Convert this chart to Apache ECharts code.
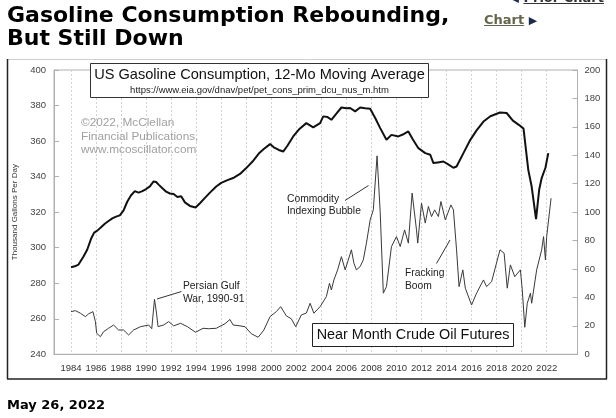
<!DOCTYPE html>
<html>
<head>
<meta charset="utf-8">
<script src="https://cdn.jsdelivr.net/npm/echarts/dist/echarts.min.js"></script>
<style>
  html, body { margin: 0; padding: 0; background: #fff; }
  #wrap { position: relative; width: 616px; height: 418px; overflow: hidden; }
  #chart { position: absolute; left: 0; top: 0; width: 616px; height: 418px; }
  .page { position: absolute; font-family: "DejaVu Sans", Verdana, sans-serif; font-weight: bold; color: #000; white-space: nowrap; }
  #title { left: 7px; top: 3px; font-size: 22px; line-height: 23px; }
  #link { left: 484px; top: 12px; font-size: 13px; color: #66664d; }
  #link u { text-decoration: underline; }
  #prior { left: 512px; top: -10px; font-size: 13px; color: #333; }
  #date { left: 7px; top: 397px; font-size: 13px; }
</style>
</head>
<body>
<div id="wrap">
  <div id="chart"></div>
  <div class="page" id="title">Gasoline Consumption Rebounding,<br>But Still Down</div>
  <div class="page" id="prior"><span style="color:#1a2a4a;font-size:9px">&#9664;</span> <u>Prior Chart</u></div>
  <div class="page" id="link"><u>Chart</u> <span style="color:#1a2a4a;font-size:11px">&#9654;</span></div>
  <div class="page" id="date">May 26, 2022</div>
</div>
<script>
// ---- Data ----
const yearTicks = [1984,1986,1988,1990,1992,1994,1996,1998,2000,2002,2004,2006,2008,2010,2012,2014,2016,2018,2020,2022];

// US gasoline consumption, 12-month moving average (left axis)
const gasYears = [1984.0,1984.3,1984.6,1985.0,1985.3,1985.6,1985.85,1986.1,1986.4,1986.7,1987.0,1987.3,1987.6,1987.9,1988.2,1988.5,1988.8,1989.1,1989.4,1989.7,1990.0,1990.3,1990.6,1990.8,1991.0,1991.3,1991.6,1991.9,1992.2,1992.5,1992.8,1993.1,1993.5,1993.95,1994.3,1994.7,1995.1,1995.6,1996.0,1996.5,1996.95,1997.5,1998.0,1998.5,1999.0,1999.4,1999.9,2000.2,2000.6,2000.95,2001.3,2001.75,2002.2,2002.8,2003.35,2003.9,2004.15,2004.5,2004.8,2005.2,2005.6,2006.0,2006.3,2006.7,2007.1,2007.5,2007.9,2008.3,2008.7,2009.2,2009.6,2010.15,2010.6,2010.95,2011.3,2011.75,2012.3,2012.7,2012.95,2013.3,2013.75,2014.1,2014.55,2014.8,2015.35,2015.9,2016.4,2016.95,2017.5,2018.27,2018.8,2019.3,2019.8,2020.15,2020.53,2020.8,2021.15,2021.4,2021.6,2021.9,2022.13];
const gasValues = [289,289.5,290.5,295,299,305,308.5,309.6,311.5,313.5,315,316.5,317.5,318.2,321,326,329.5,331.8,331,331.8,333,334.5,337.3,337,335.5,333.5,331.5,330.5,330.2,328.5,329,325.5,323.5,322.6,325,328,331,334.4,336.5,338,339.2,341.5,344.8,348.5,353,355.5,358.3,356.5,355,354.1,357.5,362.6,366.5,370.1,367.7,370.1,373.9,373.5,372,375.5,378.9,378.5,378.6,376.7,378.9,378.5,378.2,373,367.3,360.7,363.5,362.6,364,365.4,361,356,353.2,352.3,347.6,348,348.5,347,345,345.7,353.2,360.7,366,371,374,376.1,375.8,371.5,369,367,343.8,334.4,316.1,332.6,339.2,345,353.2];

// Near month crude oil futures, $/bbl (right axis)
const oilYears = [1984.0,1984.35,1984.75,1985.15,1985.4,1985.75,1985.95,1986.05,1986.35,1986.6,1987.0,1987.4,1987.8,1988.2,1988.6,1989.0,1989.55,1990.2,1990.45,1990.67,1990.83,1990.95,1991.4,1991.8,1992.2,1992.75,1993.3,1993.95,1994.55,1995.0,1995.6,1996.3,1996.7,1996.95,1997.5,1997.9,1998.4,1998.95,1999.4,1999.9,2000.4,2000.75,2001.2,2001.6,2001.95,2002.4,2002.8,2003.1,2003.4,2003.9,2004.4,2004.65,2004.8,2005.0,2005.3,2005.6,2005.9,2006.4,2006.6,2006.8,2006.95,2007.1,2007.35,2007.6,2007.9,2008.15,2008.45,2008.7,2008.95,2009.2,2009.6,2010.0,2010.3,2010.65,2010.95,2011.25,2011.6,2011.7,2012.0,2012.3,2012.55,2012.8,2013.05,2013.35,2013.55,2013.9,2014.35,2014.55,2014.8,2015.0,2015.3,2015.5,2016.0,2016.4,2016.95,2017.2,2017.6,2018.27,2018.6,2018.85,2019.1,2019.45,2019.9,2020.05,2020.25,2020.45,2020.7,2020.8,2021.2,2021.6,2021.75,2021.9,2022.0,2022.35];
const oilValues = [30,30.7,28.9,26.5,28.4,30,23,14.8,12.4,15.9,18.3,20.6,17.1,17.1,13.6,17.1,19.4,20.6,18,38.7,29,19.5,20.6,23,20,21.8,19.4,15.5,18.3,18,18.3,21.5,24.5,20.6,20,19.4,14.5,12,17,26.5,30,33.5,27,25,19.4,27.7,29,35.9,28.9,33.5,40.6,50,45.3,52.3,59.4,68.7,59.4,73.5,64.1,59.4,58.2,61.7,66.4,78.2,94.6,101.6,139.6,100,43,47.6,75.8,82.8,75.8,87.5,78.2,113.4,87.5,78.2,106.3,92.3,104,96.9,101.6,96.9,107.5,94.6,105.1,101.6,73.5,47.6,59.4,46.5,34.7,43,52.3,47.6,51.1,73.5,71.1,46.5,62.9,54.6,59.4,45.3,19,35.9,43,35.9,59.4,73.5,82.8,66.4,82.8,109.8];

const leftMin = 240, leftMax = 400, leftStep = 20;
const rightMin = 0, rightMax = 200, rightStep = 20;

const gasData = gasYears.map((y, i) => [y, gasValues[i]]);
const oilData = oilYears.map((y, i) => [y, oilValues[i]]);

const chart = echarts.init(document.getElementById('chart'), null, { renderer: 'canvas' });
const F = '"Liberation Sans", Arial, sans-serif';

const option = {
  animation: false,
  backgroundColor: '#fff',
  grid: { left: 54, right: 38.5, top: 70, bottom: 63.7, show: true, borderColor: '#b0b0b0', borderWidth: 1, backgroundColor: 'transparent' },
  xAxis: {
    type: 'value', min: 1982.641, max: 2024.462,
    axisLine: { show: true, lineStyle: { color: '#b0b0b0' } },
    axisTick: { show: false, customValues: yearTicks },
    axisLabel: { customValues: yearTicks, color: '#333', fontFamily: F, fontSize: 9.5, margin: 9, formatter: v => String(v) },
    splitLine: { show: true, lineStyle: { color: '#d2d2d2', type: [2, 2], width: 1 } }
  },
  yAxis: [
    {
      type: 'value', min: leftMin, max: leftMax, interval: leftStep, position: 'left',
      name: 'Thousand Gallons Per Day', nameLocation: 'middle', nameGap: 27, nameRotate: 90,
      nameTextStyle: { fontFamily: F, fontSize: 8, color: '#333' },
      axisLine: { show: true, lineStyle: { color: '#b0b0b0' } },
      axisTick: { show: true, inside: true, length: 5, lineStyle: { color: '#b0b0b0' } },
      axisLabel: { color: '#444', fontFamily: F, fontSize: 9.5, margin: 8 },
      splitLine: { show: false }
    },
    {
      type: 'value', min: rightMin, max: rightMax, interval: rightStep, position: 'right',
      axisLine: { show: true, lineStyle: { color: '#b0b0b0' } },
      axisTick: { show: true, inside: true, length: 5, lineStyle: { color: '#b0b0b0' } },
      axisLabel: { color: '#444', fontFamily: F, fontSize: 9.5, margin: 7 },
      splitLine: { show: false }
    }
  ],
  series: [
    {
      name: 'Gasoline', type: 'line', yAxisIndex: 0, data: gasData,
      showSymbol: false, symbol: 'none', lineStyle: { color: '#111', width: 2 }, z: 3
    },
    {
      name: 'Crude', type: 'line', yAxisIndex: 1, data: oilData,
      showSymbol: false, symbol: 'none', lineStyle: { color: '#3a3a3a', width: 1 }, z: 2
    }
  ],
  graphic: [
    // outer frame
    { type: 'line', shape: { x1: 7, y1: 59.5, x2: 606, y2: 59.5 }, style: { stroke: '#cfcfcf', lineWidth: 1 } },
    { type: 'line', shape: { x1: 7.5, y1: 59, x2: 7.5, y2: 379 }, style: { stroke: '#222', lineWidth: 1.5 } },
    { type: 'line', shape: { x1: 606.5, y1: 59, x2: 606.5, y2: 379 }, style: { stroke: '#222', lineWidth: 1.5 } },
    { type: 'line', shape: { x1: 7, y1: 379, x2: 607, y2: 379 }, style: { stroke: '#222', lineWidth: 1.5 } },
    // title box
    { type: 'rect', shape: { x: 90.5, y: 63.5, width: 338, height: 34 }, style: { fill: '#fff', stroke: '#333', lineWidth: 1 }, z: 10 },
    { type: 'text', x: 259.5, y: 75, style: { text: 'US Gasoline Consumption, 12-Mo Moving Average', fontFamily: F, fontSize: 14.6, fill: '#111', align: 'center', verticalAlign: 'middle' }, z: 11 },
    { type: 'text', x: 259.5, y: 90.5, style: { text: 'https://www.eia.gov/dnav/pet/pet_cons_prim_dcu_nus_m.htm', fontFamily: F, fontSize: 9.5, fill: '#222', align: 'center', verticalAlign: 'middle' }, z: 11 },
    // copyright
    { type: 'text', x: 81, y: 116, style: { text: '\u00A92022, McClellan\nFinancial Publications,\nwww.mcoscillator.com', fontFamily: F, fontSize: 11.8, lineHeight: 13.5, fill: '#a0a0a0' }, z: 11 },
    // annotations
    { type: 'text', x: 287, y: 193, style: { text: 'Commodity\nIndexing Bubble', fontFamily: F, fontSize: 10.3, lineHeight: 12, fill: '#222' }, z: 11 },
    { type: 'line', shape: { x1: 345, y1: 200.5, x2: 368.5, y2: 185.5 }, style: { stroke: '#333', lineWidth: 1 }, z: 11 },
    { type: 'text', x: 183, y: 280, style: { text: 'Persian Gulf\nWar, 1990-91', fontFamily: F, fontSize: 10.3, lineHeight: 13, fill: '#222' }, z: 11 },
    { type: 'line', shape: { x1: 157, y1: 299, x2: 181.5, y2: 291.5 }, style: { stroke: '#333', lineWidth: 1 }, z: 11 },
    { type: 'text', x: 405, y: 267, style: { text: 'Fracking\nBoom', fontFamily: F, fontSize: 10.3, lineHeight: 13, fill: '#222' }, z: 11 },
    { type: 'line', shape: { x1: 436.5, y1: 263.5, x2: 450, y2: 240 }, style: { stroke: '#333', lineWidth: 1 }, z: 11 },
    // oil box
    { type: 'rect', shape: { x: 312.5, y: 323.5, width: 201, height: 23 }, style: { fill: '#fff', stroke: '#222', lineWidth: 1 }, z: 10 },
    { type: 'text', x: 413, y: 335.5, style: { text: 'Near Month Crude Oil Futures', fontFamily: F, fontSize: 14.4, fill: '#111', align: 'center', verticalAlign: 'middle' }, z: 11 }
  ]
};
chart.setOption(option);
</script>
</body>
</html>
